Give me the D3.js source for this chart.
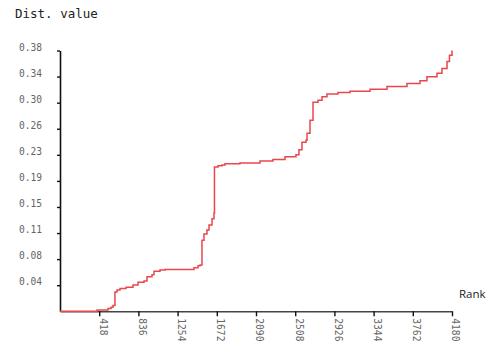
<!DOCTYPE html>
<html>
<head>
<meta charset="utf-8">
<script src="https://cdn.jsdelivr.net/npm/d3@7"></script>
<style>
  body { margin: 0; background: #fff; }
  .tick text { font-family: "DejaVu Sans Mono", monospace; font-size: 9.6px; fill: #666; }
</style>
</head>
<body>
<div id="chart"></div>
<script>
// chart size
var width = 495,
    height = 353;

// data: rank -> distance value
var ranks  = [0, 384, 395, 501, 512, 544, 565, 586, 608, 640, 704, 778, 832, 896, 928, 981, 1002, 1066, 1120, 1386,
              1429, 1472, 1493, 1514, 1535, 1567, 1589, 1621, 1642, 1647, 1685, 1727, 1759, 1919, 2133, 2271, 2399,
              2516, 2548, 2580, 2623, 2634, 2666, 2698, 2751, 2794, 2847, 2964, 3092, 3306, 3487, 3700, 3839, 3913,
              4020, 4073, 4127, 4153, 4180];
var values = [0, 0, 0.0019, 0.0019, 0.004, 0.006, 0.0084, 0.028, 0.031, 0.033, 0.035, 0.038, 0.042, 0.044, 0.050,
              0.053, 0.058, 0.060, 0.0606, 0.0606, 0.063, 0.066, 0.067, 0.103, 0.112, 0.118, 0.125, 0.134, 0.142,
              0.209, 0.211, 0.212, 0.214, 0.215, 0.218, 0.220, 0.224, 0.227, 0.234, 0.245, 0.248, 0.258, 0.277,
              0.303, 0.306, 0.311, 0.315, 0.317, 0.319, 0.322, 0.326, 0.330, 0.334, 0.340, 0.345, 0.352, 0.362,
              0.371, 0.378];

var xTicks = [418, 836, 1254, 1672, 2090, 2508, 2926, 3344, 3762, 4180];
var yMax = 0.378;
var yTicks = d3.range(1, 11).map(function(k) { return yMax * k / 10; });

var svg = d3.select("#chart").append("svg")
    .attr("width", width)
    .attr("height", height);

var x = d3.scaleLinear().domain([0, 4180]).range([60, 452]);
var y = d3.scaleLinear().domain([0, yMax]).range([311.3, 50.5]);

// y axis
var yAxis = svg.append("g")
    .attr("transform", "translate(60,0)")
    .call(d3.axisLeft(y).tickValues(yTicks).tickFormat(d3.format(".2f")).tickSize(3).tickSizeOuter(0));
yAxis.select(".domain").attr("stroke", "#111").attr("stroke-width", 1.6);
yAxis.selectAll(".tick line").attr("stroke", "#111").attr("stroke-width", 1.4);
yAxis.selectAll(".tick text").attr("x", -18).attr("dy", "-0.05em");

// x axis
var xAxis = svg.append("g")
    .attr("transform", "translate(0,311.3)")
    .call(d3.axisBottom(x).tickValues(xTicks).tickFormat(d3.format("d")).tickSize(5).tickSizeOuter(0));
xAxis.select(".domain").attr("stroke", "#444").attr("stroke-width", 1.6);
xAxis.selectAll(".tick line").attr("stroke", "#111").attr("stroke-width", 1.4);
xAxis.selectAll(".tick text")
    .attr("transform", "rotate(90)")
    .attr("x", 7)
    .attr("y", -3)
    .attr("dy", "0.32em")
    .style("text-anchor", "start");

// the line, drawn as small steps like the original
var line = d3.line()
    .curve(d3.curveStepAfter)
    .x(function(d, i) { return x(ranks[i]); })
    .y(function(d) { return y(d); });

svg.append("path")
    .datum(values)
    .attr("fill", "none")
    .attr("stroke", "#e8474c")
    .attr("stroke-width", 1.5)
    .attr("d", line);

// titles
svg.append("text")
    .attr("x", 15)
    .attr("y", 18)
    .style("font-family", "DejaVu Sans Mono, monospace")
    .style("font-size", "12.5px")
    .style("fill", "#222")
    .text("Dist. value");

svg.append("text")
    .attr("x", 459)
    .attr("y", 298)
    .style("font-family", "Open Sans, sans-serif")
    .style("font-size", "11.5px")
    .style("fill", "#222")
    .text("Rank");
</script>
</body>
</html>
